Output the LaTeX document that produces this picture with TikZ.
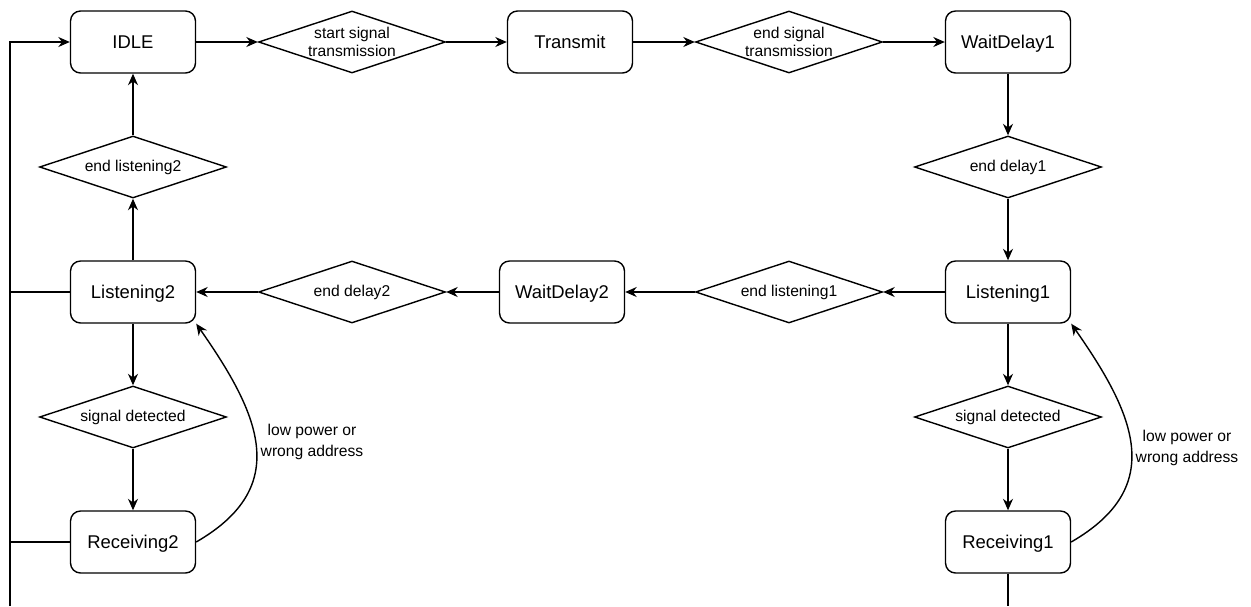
\documentclass[tikz,border=0pt]{standalone}
\usepackage{fontspec}
\setmainfont{Liberation Sans}
\usetikzlibrary{shapes.geometric, arrows.meta}
\tikzset{state/.style={draw, rounded corners=0.2cm, minimum width=2.5cm, minimum height=1.24cm,
		line width=0.8pt, text height=1.6ex, text depth=0.2ex, font=\fontsize{10.5}{12}\selectfont},
	cond/.style={draw, diamond, aspect=3, inner sep=0pt, minimum width=3.74cm, minimum height=1.24cm,
		line width=0.8pt, align=center, font=\fontsize{8.9}{10.4}\selectfont},
	note/.style={align=center, font=\fontsize{8.9}{12.3}\selectfont},
	flow/.style={-{Stealth[length=2.3mm,width=2mm]}, line width=0.8pt},
	wire/.style={line width=0.8pt}}

\begin{document}
\begin{tikzpicture}
	[x=0.02cm, y=-0.02cm]
	\useasboundingbox (0,0) rectangle (1251,606);
	% states
	\node[state] (idle) at (133,42){IDLE};
	\node[state] (trans) at (570,42){Transmit};
	\node[state] (wait1) at (1008,42){WaitDelay1};
	\node[state] (lis2) at (133,292){Listening2};
	\node[state] (wait2) at (562,292){WaitDelay2};
	\node[state] (lis1) at (1008,292){Listening1};
	\node[state] (rec2) at (133,542){Receiving2};
	\node[state] (rec1) at (1008,542){Receiving1};
	% conditions
	\node[cond] (start) at (352,42){start signal\\transmission};
	\node[cond] (endtx) at (789,42){end signal\\transmission};
	\node[cond] (endd1) at (1008,167){end delay1};
	\node[cond] (endl2) at (133,167){end listening2};
	\node[cond] (endd2) at (352,292){end delay2};
	\node[cond] (endl1) at (789,292){end listening1};
	\node[cond] (det2) at (133,417){signal detected};
	\node[cond] (det1) at (1008,417){signal detected};
	\node[note] (why2) at (312,442){low power or\\wrong address};
	\node[note] (why1) at (1187,448){low power or\\wrong address};
	\coordinate (bustop) at (10,42);
	\coordinate (busbot) at (10,606);
	\coordinate (rec1out) at (1008,606);
	% top row
	\draw[flow] (idle) -- (start);
	\draw[flow] (start) -- (trans);
	\draw[flow] (trans) -- (endtx);
	\draw[flow] (endtx) -- (wait1);
	\draw[flow] (wait1) -- (endd1);
	\draw[flow] (endd1) -- (lis1);
	% middle row
	\draw[flow] (lis1) -- (endl1);
	\draw[flow] (endl1) -- (wait2);
	\draw[flow] (wait2) -- (endd2);
	\draw[flow] (endd2) -- (lis2);
	\draw[flow] (lis2) -- (endl2);
	\draw[flow] (endl2) -- (idle);
	% receiving
	\draw[flow] (lis2) -- (det2);
	\draw[flow] (det2) -- (rec2);
	\draw[flow] (lis1) -- (det1);
	\draw[flow] (det1) -- (rec1);
	\draw[flow] (rec2.east) to[out=30, in=-55, looseness=1.3] (lis2.south east);
	\draw[flow] (rec1.east) to[out=30, in=-55, looseness=1.3] (lis1.south east);
	% back to IDLE
	\draw[flow] (busbot) -- (bustop) -- (idle);
	\draw[wire] (lis2) -- (lis2 -| bustop);
	\draw[wire] (rec2) -- (rec2 -| bustop);
	\draw[wire] (rec1) -- (rec1out);
\end{tikzpicture}
\end{document}
